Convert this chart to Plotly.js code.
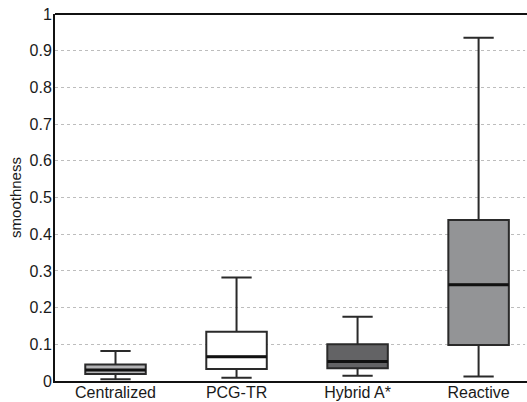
<!DOCTYPE html>
<html>
<head>
<meta charset="utf-8">
<script src="https://cdn.plot.ly/plotly-3.0.1.min.js"></script>
<style>html,body{margin:0;padding:0;background:#fff;overflow:hidden}#chart{width:527px;height:402px}</style>
</head>
<body>
<div id="chart"></div>
<script>
const categories = ["Centralized", "PCG-TR", "Hybrid A*", "Reactive"];
const lowerWhisker = [0.005, 0.009, 0.014, 0.012];
const q1Values = [0.019, 0.033, 0.035, 0.098];
const medians = [0.030, 0.066, 0.053, 0.262];
const q3Values = [0.045, 0.134, 0.100, 0.439];
const upperWhisker = [0.082, 0.282, 0.175, 0.935];
const fillColors = ["#b4b4b6", "#ffffff", "#636365", "#939496"];
const yTicks = [0, 0.1, 0.2, 0.3, 0.4, 0.5, 0.6, 0.7, 0.8, 0.9, 1];
const yTickLabels = ["0", "0.1", "0.2", "0.3", "0.4", "0.5", "0.6", "0.7", "0.8", "0.9", "1"];

const boxHalf = 0.25;
const traces = [];
categories.forEach((c, i) => {
  traces.push({
    type: "box",
    x: [i],
    q1: [q1Values[i]],
    median: [medians[i]],
    q3: [q3Values[i]],
    lowerfence: [lowerWhisker[i]],
    upperfence: [upperWhisker[i]],
    width: boxHalf * 2,
    whiskerwidth: 0.5,
    fillcolor: fillColors[i],
    line: {color: "#2a2a2a", width: 2},
    boxpoints: false,
    hoverinfo: "skip",
    showlegend: false
  });
});
categories.forEach((c, i) => {
  traces.push({
    type: "scatter",
    mode: "lines",
    x: [i - boxHalf, i + boxHalf],
    y: [medians[i], medians[i]],
    line: {color: "#111111", width: 3},
    hoverinfo: "skip",
    showlegend: false
  });
});

const layout = {
  width: 527,
  height: 402,
  margin: {l: 55, r: 0, t: 14, b: 21},
  paper_bgcolor: "#ffffff",
  plot_bgcolor: "#ffffff",
  font: {family: "Liberation Sans, Arial, sans-serif", color: "#1a1a1a", size: 16},
  xaxis: {
    range: [-0.5, 3.4],
    tickvals: [0, 1, 2, 3],
    ticktext: categories,
    showgrid: false,
    zeroline: false,
    showline: true,
    mirror: false,
    linecolor: "#111111",
    linewidth: 2,
    ticks: "",
    ticklen: 0,
    ticklabelstandoff: -4,
    tickfont: {size: 16}
  },
  yaxis: {
    range: [0, 1],
    tickvals: yTicks,
    ticktext: yTickLabels,
    showgrid: true,
    gridcolor: "#bdbdbd",
    griddash: "dot",
    gridwidth: 1,
    zeroline: false,
    showline: true,
    mirror: false,
    linecolor: "#111111",
    linewidth: 2,
    ticks: "",
    ticklabelstandoff: -2,
    tickfont: {size: 16},
    title: {text: "smoothness", font: {size: 15}, standoff: 4}
  },
  shapes: [{
    type: "line", xref: "paper", yref: "paper",
    x0: 0, x1: 1, y0: 1, y1: 1,
    line: {color: "#111111", width: 2}
  }, {
    type: "rect", xref: "paper", yref: "paper",
    x0: 0.996, x1: 1.01, y0: 0.003, y1: 0.997,
    fillcolor: "#ffffff", line: {width: 0}, layer: "above"
  }]
};

Plotly.newPlot("chart", traces, layout, {displayModeBar: false, staticPlot: true});
</script>
</body>
</html>
